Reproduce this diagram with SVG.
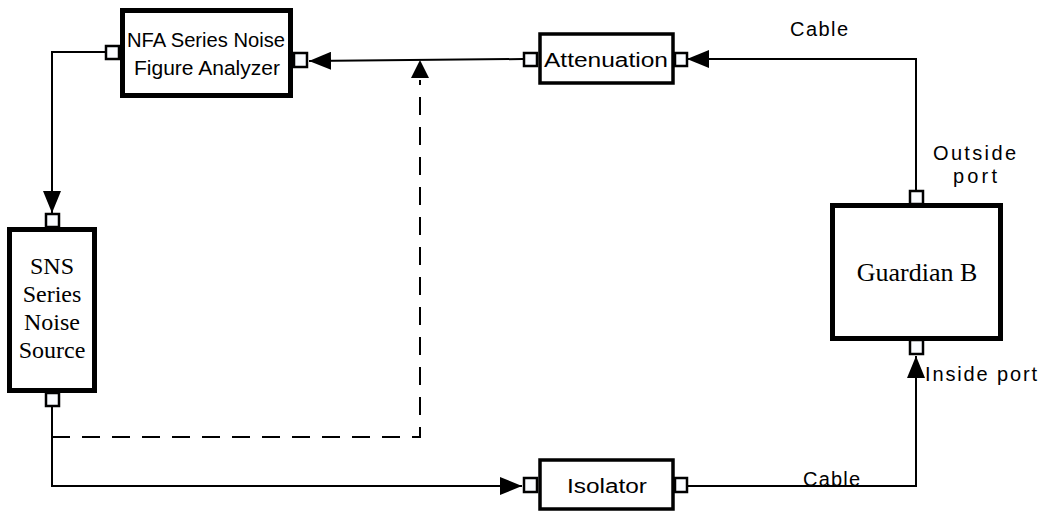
<svg xmlns="http://www.w3.org/2000/svg" width="1046" height="513" viewBox="0 0 1046 513">
<style>
.box{fill:#fff;stroke:#000;stroke-width:5}
.thin{fill:#fff;stroke:#000;stroke-width:3.5}
.port{fill:#fafcff;stroke:#000;stroke-width:2.5}
.wire{fill:none;stroke:#000;stroke-width:2}
.dash{fill:none;stroke:#000;stroke-width:2;stroke-dasharray:18 12}
.sans{font-family:"Liberation Sans","Open Sans",Arial,sans-serif;font-size:20px;fill:#000}
.serif{font-family:"Liberation Serif","Times New Roman",serif;fill:#000}
</style>
<defs>
<marker id="arr" viewBox="0 0 22 18" markerWidth="22" markerHeight="18" refX="22" refY="9" orient="auto" markerUnits="userSpaceOnUse">
<path d="M0,0 L22,9 L0,18 z" fill="#000"/>
</marker>
</defs>
<rect width="1046" height="513" fill="#fff"/>
<g id="connectors">
<polyline class="wire" points="105,52 52,52 52,213" marker-end="url(#arr)"/>
<polyline class="wire" points="523,59 309,61" marker-end="url(#arr)"/>
<polyline class="wire" points="916,190 916,59 687,59" marker-end="url(#arr)"/>
<polyline class="wire" points="52,407 52,486 522,486" marker-end="url(#arr)"/>
<polyline class="wire" points="687,486 916,486 916,356" marker-end="url(#arr)"/>
<polyline class="dash" points="52,437 420,437 420,80"/>
<path d="M411,78 L420,60 L429,78 z" fill="#000"/>
</g>
<g id="nfa">
<rect class="box" x="122.5" y="10.5" width="168" height="85"/>
<rect class="port" x="106" y="46" width="13" height="13"/>
<rect class="port" x="294" y="53" width="13" height="14"/>
<text class="sans" x="206" y="47" text-anchor="middle" textLength="158" lengthAdjust="spacingAndGlyphs">NFA Series Noise</text>
<text class="sans" x="207" y="75" text-anchor="middle" textLength="146" lengthAdjust="spacingAndGlyphs">Figure Analyzer</text>
</g>
<g id="attenuation">
<rect class="thin" x="540" y="34" width="133" height="49"/>
<rect class="port" x="524" y="53" width="13" height="13"/>
<rect class="port" x="675" y="53" width="12" height="13"/>
<text class="sans" x="606" y="67" text-anchor="middle" textLength="124" lengthAdjust="spacingAndGlyphs">Attenuation</text>
</g>
<g id="sns">
<rect class="box" x="9.5" y="229.5" width="85" height="161"/>
<rect class="port" x="46" y="214" width="13" height="13"/>
<rect class="port" x="46" y="393" width="13" height="13"/>
<text class="serif" font-size="24" x="52" y="274" text-anchor="middle">SNS</text>
<text class="serif" font-size="24" x="52" y="302" text-anchor="middle">Series</text>
<text class="serif" font-size="24" x="52" y="330" text-anchor="middle">Noise</text>
<text class="serif" font-size="24" x="52" y="358" text-anchor="middle">Source</text>
</g>
<g id="isolator">
<rect class="thin" x="540" y="460" width="133" height="49"/>
<rect class="port" x="524" y="478" width="13" height="14"/>
<rect class="port" x="675" y="478" width="12" height="14"/>
<text class="sans" x="607" y="493" text-anchor="middle" textLength="80" lengthAdjust="spacingAndGlyphs">Isolator</text>
</g>
<g id="guardian">
<rect class="box" x="832.5" y="205.5" width="168" height="133"/>
<rect class="port" x="910" y="191" width="13" height="13"/>
<rect class="port" x="910" y="340" width="13" height="14"/>
<text class="serif" font-size="26" x="917" y="281" text-anchor="middle">Guardian B</text>
</g>
<g id="labels">
<text class="sans" x="790" y="36" textLength="58" lengthAdjust="spacing">Cable</text>
<text class="sans" x="933" y="160" textLength="83" lengthAdjust="spacing">Outside</text>
<text class="sans" x="953" y="183" textLength="44" lengthAdjust="spacing">port</text>
<text class="sans" x="925" y="381" textLength="112" lengthAdjust="spacing">Inside port</text>
<text class="sans" x="803" y="486" textLength="57" lengthAdjust="spacing">Cable</text>
</g>
</svg>
